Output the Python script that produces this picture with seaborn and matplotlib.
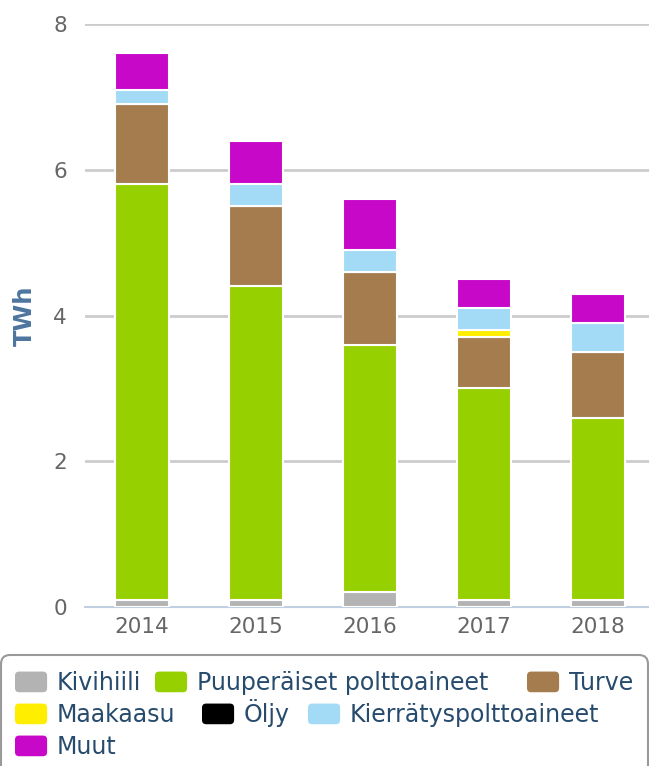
import numpy as np
import pandas as pd
import seaborn as sns
import matplotlib.pyplot as plt
import matplotlib.patches as mpatches
from matplotlib.legend_handler import HandlerPatch

# Data (TWh)
years = ['2014', '2015', '2016', '2017', '2018']
kivihiili = [0.1, 0.1, 0.2, 0.1, 0.1]
puuperaiset = [5.7, 4.3, 3.4, 2.9, 2.5]
turve = [1.1, 1.1, 1.0, 0.7, 0.9]
maakaasu = [0.0, 0.0, 0.0, 0.1, 0.0]
oljy = [0.0, 0.0, 0.0, 0.0, 0.0]
kierratys = [0.2, 0.3, 0.3, 0.3, 0.4]
muut = [0.5, 0.6, 0.7, 0.4, 0.4]

series = [
    ('Kivihiili', kivihiili, '#b3b3b3'),
    ('Puuperäiset polttoaineet', puuperaiset, '#97d000'),
    ('Turve', turve, '#a57c4e'),
    ('Maakaasu', maakaasu, '#ffee00'),
    ('Öljy', oljy, '#000000'),
    ('Kierrätyspolttoaineet', kierratys, '#a3dbf7'),
    ('Muut', muut, '#c808c8'),
]


class RoundSquare(HandlerPatch):
    # legend swatch with rounded corners
    def create_artists(self, legend, orig_handle, xdescent, ydescent,
                       width, height, fontsize, trans):
        p = mpatches.FancyBboxPatch((-xdescent, -ydescent), width, height,
                                    boxstyle='round,pad=0,rounding_size=3',
                                    facecolor=orig_handle.get_facecolor(),
                                    edgecolor='none', transform=trans)
        return [p]


sns.set_style("white")
plt.rcParams['font.family'] = ['DejaVu Sans']

fig = plt.figure(figsize=(6.49, 7.66), dpi=100)
ax = fig.add_axes([85 / 649, 1 - 607 / 766, 570 / 649, (607 - 24) / 766])

df = pd.DataFrame({'year': years})
bottom = np.zeros(len(years))
handles = {}
for name, vals, color in series:
    vals = np.array(vals, dtype=float)
    df['v'] = vals
    if vals.sum() > 0:
        sns.barplot(data=df, x='year', y='v', bottom=bottom, color=color,
                    width=0.48, edgecolor='white', linewidth=1.5,
                    saturation=1, ax=ax, zorder=3)
    bottom = bottom + vals
    handles[name] = mpatches.Patch(facecolor=color, edgecolor='none')

ax.set_ylim(0, 8)
ax.set_xlim(-0.5, 4.5)
ax.set_yticks([0, 2, 4, 6, 8])
ax.yaxis.grid(True, color='#cccccc', linewidth=2)
ax.set_axisbelow(True)
for s in ['top', 'right', 'left']:
    ax.spines[s].set_visible(False)
ax.spines['bottom'].set_color('#c0d0e0')
ax.spines['bottom'].set_linewidth(1.5)
ax.set_xlabel('')
ax.set_ylabel('TWh', fontsize=17.5, fontweight='bold', color='#4d759e')
ax.yaxis.set_label_coords(-60 / 570, 0.5)
ax.yaxis.label.set_va('center')
ax.tick_params(axis='y', length=0, pad=13, labelsize=15.5, labelcolor='#666666')
ax.tick_params(axis='x', which='major', length=0, pad=7, labelsize=15.5, labelcolor='#666666')
ax.set_xticks(np.arange(-0.5, 5, 1), minor=True)
ax.tick_params(axis='x', which='minor', length=7, width=1.5, color='#c0d0e0')

# legend items placed like the original flow layout (x of swatch, bottom of row, in px)
legend_pos = {
    'Kivihiili': (15, 695),
    'Puuperäiset polttoaineet': (155, 695),
    'Turve': (527, 695),
    'Maakaasu': (15, 727),
    'Öljy': (202, 727),
    'Kierrätyspolttoaineet': (308, 727),
    'Muut': (15, 759),
}
for name, (px, py) in legend_pos.items():
    leg = fig.legend([handles[name]], [name], loc='lower left',
                     bbox_to_anchor=(px / 649, 1 - py / 766),
                     frameon=False, fontsize=17, handlelength=1.36, handleheight=0.97,
                     handletextpad=0.4, borderpad=0, borderaxespad=0,
                     handler_map={mpatches.Patch: RoundSquare()})
    for t in leg.get_texts():
        t.set_color('#274b6d')

frame = mpatches.FancyBboxPatch((1, -30), 647, 766 - 655 + 30,
                                boxstyle='round,pad=0,rounding_size=9',
                                transform=None, facecolor='none',
                                edgecolor='#999999', linewidth=1.5)
fig.add_artist(frame)

fig.savefig('out.png', dpi=100)
